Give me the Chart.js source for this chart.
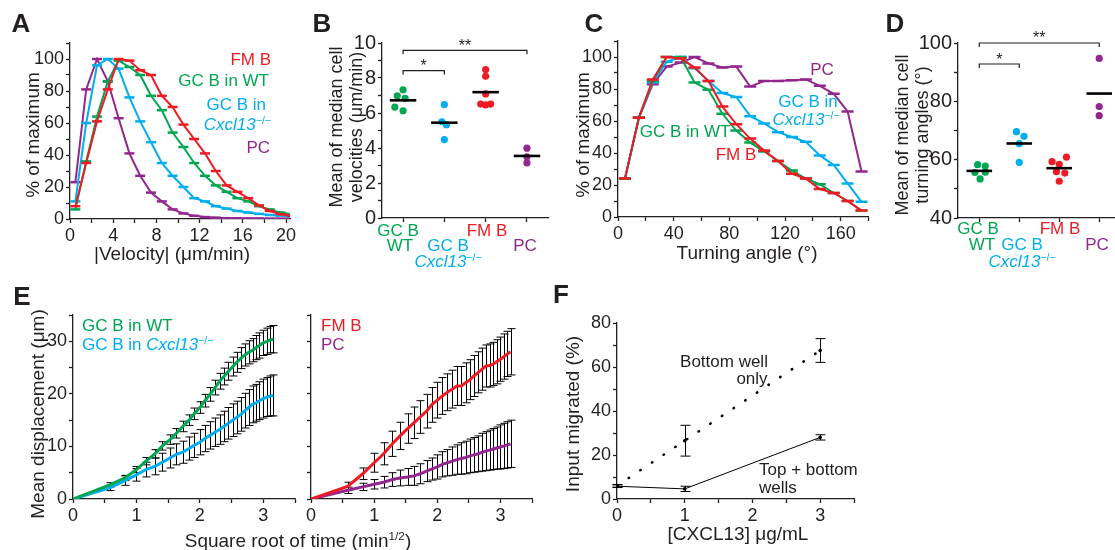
<!DOCTYPE html>
<html>
<head>
<meta charset="utf-8">
<script src="https://cdn.jsdelivr.net/npm/chart.js@4.4.1/dist/chart.umd.min.js"></script>
<style>
  body { margin: 0; background: #fff; }
  #fig { position: relative; width: 1115px; height: 550px; overflow: hidden;
         font-family: "Liberation Sans", Arial, Helvetica, sans-serif; color: #231f20; }
  #fig canvas { position: absolute; }
  .t { position: absolute; white-space: nowrap; line-height: 1; z-index: 2; }
  .sup { font-size: 0.62em; vertical-align: 0.55em; line-height: 0; }
</style>
</head>
<body>
<div id="fig"></div>
<script>
// ---- A: velocity distributions (% of maximum) ----
const speedBins = [0.5, 1.5, 2.5, 3.5, 4.5, 5.5, 6.5, 7.5, 8.5, 9.5, 10.5, 11.5, 12.5, 13.5, 14.5, 15.5, 16.5, 17.5, 18.5, 19.5, 20.5];
const speedFMB  = [8, 35, 61, 81, 100, 99, 93, 90, 77, 70, 59, 50, 41, 30, 21, 17, 13, 8.5, 5, 3, 2];
const speedGCWT = [6, 36, 64, 86, 99, 95, 90, 77, 68, 54, 45, 35, 27, 21, 17, 13, 11, 8, 6, 4, 3];
const speedGCKO = [11, 60, 96, 100, 94, 76, 61, 48, 35, 27, 20, 13, 11, 8, 6.5, 5, 4, 3.2, 2.5, 2, 1.5];
const speedPC   = [23, 81, 100, 86, 63, 41, 27, 16.5, 11, 6, 3.5, 2, 1.2, 0.8, 0.5, 0.4, 0.3, 0.3, 0.2, 0.2, 0.2];

// ---- B: mean of median cell velocities (um/min), one value per mouse ----
const velGCWT = [7.33, 6.98, 6.84, 6.34, 6.13];
const velGCWTJitter = [0, -0.14, 0.05, -0.2, 0];
const velGCKO = [6.48, 5.5, 5.33, 4.48];
const velGCKOJitter = [0, -0.06, 0.05, 0];
const velFMB = [8.48, 8.1, 7.09, 6.51, 6.46, 6.51];
const velFMBJitter = [0, 0, 0, -0.12, 0, 0.12];
const velPC = [3.99, 3.5, 3.15];
const velPCJitter = [0, 0, 0];
const velSig = [{ from: 1, to: 2, y: 8.42, label: '*' }, { from: 1, to: 4, y: 9.58, label: '**' }];

// ---- C: turning angle distributions ----
const angleBins = [5, 15, 25, 35, 45, 55, 65, 75, 85, 95, 105, 115, 125, 135, 145, 155, 165, 175];
const angleFMB  = [24, 62, 86, 100, 99, 93.5, 85, 69, 58, 49, 41.5, 35, 27, 24, 17.5, 15, 10, 4];
const angleGCWT = [24, 62, 85, 100, 100, 84, 79.5, 64.5, 54, 46.5, 41, 35, 29, 24, 20.5, 15, 10, 4];
const angleGCKO = [24, 62, 84, 97, 100, 93, 85, 77.5, 75, 63, 58.5, 53, 50, 47, 38.5, 32.5, 21, 9.5];
const anglePC   = [24, 62, 83, 94, 96.5, 100, 96, 93.5, 94, 81.5, 85, 85, 85.5, 86, 82, 77, 66, 28.5];

// ---- D: mean of median cell turning angles (deg) ----
const turnGCWT = [58.3, 57.8, 55.6, 55.7, 53.4];
const turnGCWTJitter = [-0.04, 0.15, -0.11, 0.15, 0.02];
const turnGCKO = [69.6, 68.0, 65.5, 59.1];
const turnGCKOJitter = [-0.07, 0.12, 0, 0];
const turnFMB = [59.3, 60.9, 58.4, 55.9, 55.4, 52.6];
const turnFMBJitter = [-0.18, 0.18, 0, -0.07, 0.14, 0];
const turnPC = [94.7, 78.2, 75.1];
const turnPCJitter = [0, 0, 0];
const turnSig = [{ from: 1, to: 2, y: 92.8, label: '*' }, { from: 1, to: 4, y: 100, label: '**' }];

// ---- E: mean displacement (um) vs square root of time ----
const sqrtTime = [0, 0.58, 0.82, 1.00, 1.15, 1.29, 1.41, 1.53, 1.63, 1.73, 1.83, 1.91, 2.00, 2.08, 2.16, 2.24,
                  2.31, 2.38, 2.45, 2.52, 2.58, 2.65, 2.71, 2.77, 2.83, 2.89, 2.94, 3.00, 3.06, 3.11, 3.16];
const dispGCWT = [0, 2.7, 4.0, 5.6, 7.2, 8.6, 10.1, 11.3, 12.5, 13.8, 15.0, 16.2, 17.4, 18.7, 19.9, 21.2,
                  22.4, 23.3, 24.3, 25.2, 26.0, 26.8, 27.4, 27.9, 28.3, 28.8, 29.2, 29.7, 30.0, 30.3, 30.4];
const dispGCWTErr = [0, 0.4, 0.5, 0.6, 0.7, 0.8, 0.8, 0.9, 0.9, 1.0, 1.0, 1.1, 1.1, 1.2, 1.3, 1.4,
                     1.5, 1.6, 1.7, 1.8, 1.9, 2.0, 2.1, 2.2, 2.2, 2.3, 2.4, 2.4, 2.5, 2.5, 2.6];
const dispGCKO = [0, 2.1, 3.5, 4.6, 5.6, 6.2, 7.0, 7.8, 8.5, 8.9, 9.6, 10.2, 10.8, 11.5, 12.1, 12.7,
                  13.2, 13.8, 14.4, 15.0, 15.5, 16.1, 16.8, 17.4, 18.0, 18.3, 18.7, 19.1, 19.4, 19.6, 19.7];
const dispGCKOErr = [0, 0.5, 0.9, 1.2, 1.4, 1.6, 1.7, 1.9, 2.0, 2.1, 2.2, 2.3, 2.4, 2.5, 2.6, 2.7,
                     2.8, 2.9, 3.0, 3.1, 3.1, 3.2, 3.3, 3.4, 3.5, 3.5, 3.6, 3.7, 3.7, 3.8, 3.9];
const dispFMB = [0, 2.4, 4.8, 6.9, 8.6, 10.5, 12.0, 13.4, 14.5, 15.6, 16.7, 17.9, 18.8, 19.6, 20.3, 20.9,
                 21.5, 21.5, 22.1, 22.7, 23.4, 24.1, 24.7, 25.3, 25.4, 25.7, 26.1, 26.6, 27.1, 27.6, 28.0];
const dispFMBErr = [0, 0.8, 1.1, 1.8, 2.1, 2.4, 2.6, 2.8, 3.0, 3.1, 3.2, 3.3, 3.4, 3.5, 3.5, 3.6,
                    3.7, 3.7, 3.8, 3.8, 3.9, 3.9, 4.0, 4.0, 4.1, 4.1, 4.2, 4.2, 4.3, 4.3, 4.4];
const dispPC = [0, 1.65, 2.3, 2.8, 3.2, 3.7, 4.0, 4.2, 4.4, 4.8, 5.3, 5.7, 6.1, 6.6, 6.9, 7.2,
                7.5, 7.7, 7.9, 8.2, 8.4, 8.6, 8.9, 9.1, 9.3, 9.5, 9.7, 9.9, 10.1, 10.3, 10.5];
const dispPCErr = [0, 0.6, 0.7, 0.9, 1.1, 1.3, 1.5, 1.6, 1.8, 1.9, 2.0, 2.1, 2.3, 2.4, 2.5, 2.7,
                   2.8, 3.0, 3.1, 3.2, 3.3, 3.4, 3.6, 3.7, 3.8, 3.9, 4.0, 4.2, 4.3, 4.4, 4.5];

// ---- F: transwell migration ----
const cxcl13Conc = [0, 1, 3];
const migBottomOnly = [6, 26.5, 67.5];
const migBottomOnlyErr = [0.6, 7, 5.4];
const migTopBottom = [5.8, 4.6, 28];
const migTopBottomErr = [0.6, 1.2, 1.2];

// ---------------------------------------------------------------
const INK = '#231f20';
const RED = '#ed1c24', GREEN = '#00a651', BLUE = '#00aeef', PURPLE = '#92278f';
Chart.defaults.font.family = '"Liberation Sans", Arial, Helvetica, sans-serif';
Chart.defaults.color = INK;

const fig = document.getElementById('fig');
const near = v => Math.abs(v - Math.round(v)) < 1e-6;
const pts = (xs, ys) => xs.map((x, i) => ({ x: x, y: ys[i] }));

// vertical error bars drawn under the lines
const errorBars = {
  id: 'errorBars',
  beforeDatasetsDraw(chart) {
    const ctx = chart.ctx, xs = chart.scales.x, ys = chart.scales.y;
    chart.data.datasets.forEach(ds => {
      if (!ds.errors) return;
      ctx.save();
      ctx.strokeStyle = '#000';
      ctx.lineWidth = 1;
      ds.data.forEach((p, j) => {
        const e = ds.errors[j];
        if (!e) return;
        const px = Math.round(xs.getPixelForValue(p.x)) + 0.5;
        const top = ys.getPixelForValue(p.y + e), bot = ys.getPixelForValue(p.y - e);
        const w = ds.capWidth || 4;
        ctx.beginPath();
        ctx.moveTo(px, top); ctx.lineTo(px, bot);
        ctx.moveTo(px - w, top); ctx.lineTo(px + w, top);
        ctx.moveTo(px - w, bot); ctx.lineTo(px + w, bot);
        ctx.stroke();
      });
      ctx.restore();
    });
  }
};

// significance stars placed in data coordinates
const starLabels = {
  id: 'starLabels',
  afterDatasetsDraw(chart, args, opts) {
    if (!opts.items) return;
    const ctx = chart.ctx, xs = chart.scales.x, ys = chart.scales.y;
    const size = opts.size || 16;
    ctx.save();
    ctx.fillStyle = INK;
    ctx.font = size + 'px ' + Chart.defaults.font.family;
    ctx.textAlign = 'center';
    ctx.textBaseline = 'alphabetic';
    opts.items.forEach(it => {
      ctx.fillText(it.label, xs.getPixelForValue((it.from + it.to) / 2), ys.getPixelForValue(it.y) + 0.36 * size);
    });
    ctx.restore();
  }
};

function axis(min, max, step, every, size) {
  return {
    type: 'linear', min: min, max: max,
    afterBuildTicks: a => { a.ticks = a.ticks.filter(t => near(t.value / step)); },
    grid: { drawOnChartArea: false, drawTicks: true, tickLength: 4, tickWidth: 1.3, tickColor: INK },
    border: { display: true, color: INK, width: 1.3 },
    ticks: {
      stepSize: step, autoSkip: false, maxRotation: 0, minRotation: 0, padding: 2, color: INK,
      includeBounds: false, font: { size: size },
      callback: v => (every && near(v / every)) ? String(v) : ''
    }
  };
}

function makeChart(area, pad, xAxis, yAxis, datasets, extra) {
  const YW = 50, XH = 30;
  const c = document.createElement('canvas');
  const w = area.R - area.L + YW + pad.right;
  const h = area.B - area.T + pad.top + XH;
  c.width = w; c.height = h;
  c.style.width = w + 'px'; c.style.height = h + 'px';
  c.style.left = (area.L - YW) + 'px';
  c.style.top = (area.T - pad.top) + 'px';
  fig.appendChild(c);
  xAxis.afterFit = s => { s.height = XH; };
  yAxis.afterFit = s => { s.width = YW; };
  return new Chart(c, {
    type: 'line',
    data: { datasets: datasets },
    options: {
      responsive: false, animation: false, events: [],
      layout: { padding: { top: pad.top, right: pad.right, left: 0, bottom: 0 } },
      scales: { x: xAxis, y: yAxis },
      plugins: Object.assign({ legend: { display: false }, tooltip: { enabled: false } }, extra || {})
    },
    plugins: [errorBars, starLabels]
  });
}

function txt(html, x, y, o) {
  o = o || {};
  const d = document.createElement('div');
  d.className = 't';
  d.innerHTML = html;
  d.style.fontSize = (o.size || 17) + 'px';
  if (o.color) d.style.color = o.color;
  if (o.bold) d.style.fontWeight = 'bold';
  d.style.left = x + 'px';
  d.style.top = y + 'px';
  const ax = o.align === 'left' ? '0' : o.align === 'right' ? '-100%' : '-50%';
  d.style.transform = 'translate(' + ax + ', -50%)' + (o.rot ? ' rotate(-90deg)' : '');
  fig.appendChild(d);
}

function histLine(xs, ys, color, r) {
  return { data: pts(xs, ys), borderColor: color, borderWidth: 2, tension: 0,
           pointStyle: 'line', pointRadius: r, pointBorderWidth: 2.5, pointBorderColor: color };
}
function dots(pos, vals, jitter, color) {
  return { data: vals.map((v, i) => ({ x: pos + jitter[i], y: v })), showLine: false,
           pointRadius: 3.6, pointBorderWidth: 0, pointBackgroundColor: color, borderColor: color };
}
function meanBar(pos, vals) {
  const m = vals.reduce((a, b) => a + b, 0) / vals.length;
  return { data: [{ x: pos - 0.32, y: m }, { x: pos + 0.32, y: m }], borderColor: '#000',
           borderWidth: 2.6, pointRadius: 0 };
}
function bracket(s, drop) {
  return { data: [{ x: s.from, y: s.y - drop }, { x: s.from, y: s.y }, { x: s.to, y: s.y }, { x: s.to, y: s.y - drop }],
           borderColor: INK, borderWidth: 1.2, pointRadius: 0, clip: false };
}
function dispLine(ys, errs, color) {
  return { data: pts(sqrtTime, ys), errors: errs, capWidth: 4, borderColor: color, borderWidth: 3,
           pointRadius: 0, tension: 0 };
}
const ITAL = '<i>Cxcl13</i><span class="sup">\u2212/\u2212</span>';

// ---- A ----
makeChart({ L: 70, R: 290, T: 43, B: 219 }, { top: 16, right: 14 },
  axis(0, 20.37, 2, 4, 18), axis(0, 110, 10, 20, 18),
  [histLine(speedBins, speedFMB, RED, 5), histLine(speedBins, speedGCWT, GREEN, 5),
   histLine(speedBins, speedGCKO, BLUE, 5), histLine(speedBins, speedPC, PURPLE, 5)]);

// ---- B ----
makeChart({ L: 382, R: 548, T: 43, B: 218 }, { top: 16, right: 4 },
  axis(0.49, 4.51, 1, 0, 20), axis(0, 10, 1, 2, 20),
  [meanBar(1, velGCWT), meanBar(2, velGCKO), meanBar(3, velFMB), meanBar(4, velPC),
   dots(1, velGCWT, velGCWTJitter, GREEN), dots(2, velGCKO, velGCKOJitter, BLUE),
   dots(3, velFMB, velFMBJitter, RED), dots(4, velPC, velPCJitter, PURPLE),
   bracket(velSig[0], 0.22), bracket(velSig[1], 0.22)],
  { starLabels: { items: [{ from: 1, to: 2, y: 8.72, label: '*' }, { from: 1, to: 4, y: 9.9, label: '**' }], size: 16 } });

// ---- C ----
makeChart({ L: 618, R: 871, T: 41, B: 217 }, { top: 16, right: 6 },
  axis(0, 180, 20, 40, 18), axis(0, 110, 10, 20, 18),
  [histLine(angleBins, angleFMB, RED, 6), histLine(angleBins, angleGCWT, GREEN, 6),
   histLine(angleBins, angleGCKO, BLUE, 6), histLine(angleBins, anglePC, PURPLE, 6)]);

// ---- D ----
makeChart({ L: 958, R: 1114, T: 43, B: 218 }, { top: 18, right: 4 },
  axis(0.4675, 4.37, 1, 0, 20), axis(40, 100, 10, 20, 20),
  [meanBar(1, turnGCWT), meanBar(2, turnGCKO), meanBar(3, turnFMB), meanBar(4, turnPC),
   dots(1, turnGCWT, turnGCWTJitter, GREEN), dots(2, turnGCKO, turnGCKOJitter, BLUE),
   dots(3, turnFMB, turnFMBJitter, RED), dots(4, turnPC, turnPCJitter, PURPLE),
   bracket(turnSig[0], 1.4), bracket(turnSig[1], 1.4)],
  { starLabels: { items: [{ from: 1, to: 2, y: 94.5, label: '*' }, { from: 1, to: 4, y: 102.1, label: '**' }], size: 16 } });

// ---- E (left and right) ----
makeChart({ L: 73, R: 295, T: 315, B: 499 }, { top: 14, right: 6 },
  axis(0, 3.5, 0.5, 1, 18), axis(0, 35, 5, 10, 18),
  [dispLine(dispGCWT, dispGCWTErr, GREEN), dispLine(dispGCKO, dispGCKOErr, BLUE)]);
makeChart({ L: 311, R: 532, T: 315, B: 499 }, { top: 14, right: 6 },
  axis(0, 3.5, 0.5, 1, 18), axis(0, 35, 5, 0, 18),
  [dispLine(dispFMB, dispFMBErr, RED), dispLine(dispPC, dispPCErr, PURPLE)]);

// ---- F ----
makeChart({ L: 617, R: 854, T: 323, B: 499 }, { top: 14, right: 6 },
  axis(0, 3.5, 0.5, 1, 18), axis(0, 80, 10, 20, 18),
  [{ data: pts(cxcl13Conc, migBottomOnly), errors: migBottomOnlyErr, capWidth: 5, borderColor: '#000',
     borderWidth: 2.5, borderDash: [0.5, 13.5], borderCapStyle: 'round',
     pointRadius: 1.8, pointBorderWidth: 0, pointBackgroundColor: '#000' },
   { data: pts(cxcl13Conc, migTopBottom), errors: migTopBottomErr, capWidth: 5, borderColor: '#000',
     borderWidth: 1, pointRadius: 1.8, pointBorderWidth: 0, pointBackgroundColor: '#000' }]);

// ---- text ----
const L = { size: 26, bold: true };
txt('A', 21, 22.5, L); txt('B', 322, 23, L); txt('C', 594, 22.5, L); txt('D', 895, 22.5, L);
txt('E', 22, 296, L); txt('F', 561, 294, L);

txt('% of maximum', 32, 135, { size: 19, rot: true });
txt('|Velocity| (\u03bcm/min)', 172, 253, { size: 19 });
txt('FM B', 271, 59, { color: RED, align: 'right' });
txt('GC B in WT', 269, 80, { color: GREEN, align: 'right' });
txt('GC B in', 266, 104, { color: BLUE, align: 'right' });
txt(ITAL, 271, 124, { color: BLUE, align: 'right' });
txt('PC', 270, 147, { color: PURPLE, align: 'right' });

txt('Mean of median cell', 336, 127, { size: 18, rot: true });
txt('velocities (\u03bcm/min)', 356, 127, { size: 18, rot: true });
txt('GC B', 398, 230, { color: GREEN }); txt('WT', 400, 245, { color: GREEN });
txt('GC B', 448, 245, { color: BLUE }); txt(ITAL, 448, 261, { color: BLUE });
txt('FM B', 487, 230, { color: RED }); txt('PC', 525, 245, { color: PURPLE });

txt('% of maximum', 582, 135, { size: 19, rot: true });
txt('Turning angle (\u00b0)', 747, 252, { size: 19 });
txt('PC', 822, 69, { color: PURPLE });
txt('GC B in', 808, 101, { color: BLUE });
txt(ITAL, 806, 119, { color: BLUE });
txt('GC B in WT', 685, 131, { color: GREEN });
txt('FM B', 736, 154, { color: RED });

txt('Mean of median cell', 902, 135, { size: 18, rot: true });
txt('turning angles (\u00b0)', 922, 135, { size: 18, rot: true });
txt('GC B', 978, 228, { color: GREEN }); txt('WT', 982, 244, { color: GREEN });
txt('GC B', 1022, 244, { color: BLUE }); txt(ITAL, 1022, 261, { color: BLUE });
txt('FM B', 1060, 228, { color: RED }); txt('PC', 1097, 244, { color: PURPLE });

txt('Mean displacement (\u03bcm)', 37, 414, { size: 19, rot: true });
txt('Square root of time (min<span class="sup">1/2</span>)', 298, 540, { size: 19 });
txt('GC B in WT', 82, 325, { color: GREEN, align: 'left' });
txt('GC B in ' + ITAL, 82, 344, { color: BLUE, align: 'left' });
txt('FM B', 321, 325, { color: RED, align: 'left' });
txt('PC', 321, 344, { color: PURPLE, align: 'left' });

txt('Input migrated (%)', 572, 414, { size: 19, rot: true });
txt('[CXCL13] \u03bcg/mL', 738, 533, { size: 19 });
txt('Bottom well', 724, 361);
txt('only', 752, 378);
txt('Top + bottom', 759, 469, { align: 'left' });
txt('wells', 759, 487, { align: 'left' });
</script>
</body>
</html>
